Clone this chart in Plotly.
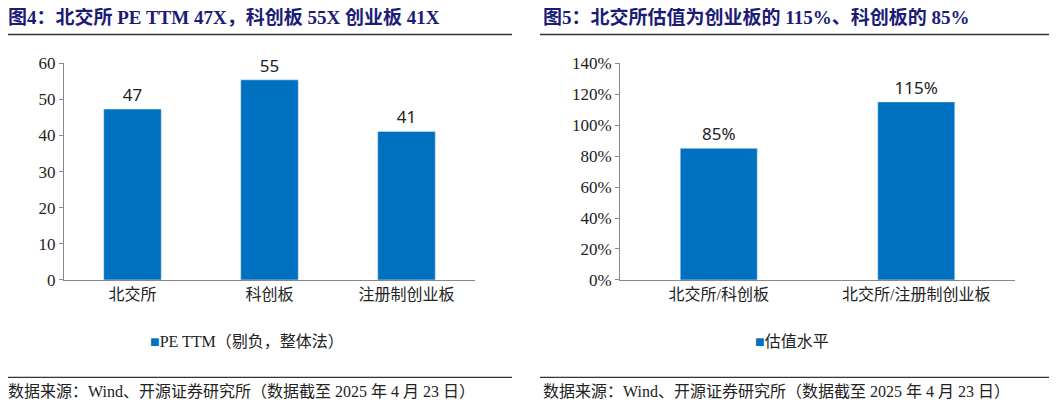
import plotly.graph_objects as go

cats1 = ["北交所", "科创板", "注册制创业板"]
pe = [47.3, 55.4, 41.1]
pe_labels = ["47", "55", "41"]
cats2 = ["北交所/科创板", "北交所/注册制创业板"]
ratio = [0.85, 1.15]
ratio_labels = ["85%", "115%"]

BLUE = "#0070C0"
FONT = "Liberation Serif, Noto Sans CJK SC"
W, H = 1057, 407

fig = go.Figure()
fig.add_bar(x=cats1, y=pe, text=pe_labels, textposition="outside", marker_color=BLUE,
            width=0.42, xaxis="x", yaxis="y", cliponaxis=False,
            textfont=dict(family="Noto Sans", size=17, color="#222"))
fig.add_bar(x=cats2, y=ratio, text=ratio_labels, textposition="outside", marker_color=BLUE,
            width=0.39, xaxis="x2", yaxis="y2", cliponaxis=False,
            textfont=dict(family="Noto Sans", size=17, color="#222"))

def px(x): return (x - 8) / W
def py(y): return 1 - ((y - 15.5) / 0.959) / H

ax = dict(showgrid=False, showline=True, linecolor="#888", ticks="", tickfont=dict(size=16, color="#222", family=FONT))
fig.update_layout(
    width=W, height=H, margin=dict(l=0, r=0, t=0, b=0), showlegend=False,
    plot_bgcolor="white", paper_bgcolor="white", font=dict(family=FONT),
    xaxis=dict(domain=[px(64), px(475)], **ax),
    yaxis=dict(domain=[py(280), py(62)], range=[0, 60], dtick=10, showgrid=False, showline=True,
               linecolor="#888", ticks="outside", ticklen=4, tickcolor="#888",
               tickfont=dict(size=17, color="#222", family=FONT)),
    xaxis2=dict(domain=[px(620), px(1015)], anchor="y2", **ax),
    yaxis2=dict(domain=[py(280), py(62)], range=[0, 1.4], dtick=0.2, tickformat=".0%", anchor="x2",
                showgrid=False, showline=True, linecolor="#888", ticks="outside", ticklen=4, tickcolor="#888",
                tickfont=dict(size=17, color="#222", family=FONT)),
)

shapes = []
for x0, x1 in [(5, 512), (540, 1052)]:
    shapes.append(dict(type="line", xref="paper", yref="paper", x0=px(x0), x1=px(x1), y0=py(33), y1=py(33),
                       line=dict(color="#333", width=1.5)))
    shapes.append(dict(type="line", xref="paper", yref="paper", x0=px(x0), x1=px(x1), y0=py(378), y1=py(378),
                       line=dict(color="#333", width=1.2)))
fig.update_layout(shapes=shapes)

ann = [
    dict(x=px(6), y=py(16), text="<b>图4：北交所 PE TTM 47X，科创板 55X 创业板 41X</b>", xanchor="left",
         font=dict(size=19, color="#1c1c78")),
    dict(x=px(541), y=py(16), text="<b>图5：北交所估值为创业板的 115%、科创板的 85%</b>", xanchor="left",
         font=dict(size=19, color="#1c1c78")),
    dict(x=px(6), y=py(392), text="数据来源：Wind、开源证券研究所（数据截至 2025 年 4 月 23 日）", xanchor="left",
         font=dict(size=16, color="#222")),
    dict(x=px(541), y=py(392), text="数据来源：Wind、开源证券研究所（数据截至 2025 年 4 月 23 日）", xanchor="left",
         font=dict(size=16, color="#222")),
    dict(x=px(148), y=py(342), text="<span style='color:%s'>■</span>PE TTM（剔负，整体法）" % BLUE, xanchor="left",
         font=dict(size=16, color="#222")),
    dict(x=px(753), y=py(342), text="<span style='color:%s'>■</span>估值水平" % BLUE, xanchor="left",
         font=dict(size=16, color="#222")),
]
for a in ann:
    a.update(xref="paper", yref="paper", showarrow=False, yanchor="middle")
fig.update_layout(annotations=ann)

fig.write_html("out.html")
